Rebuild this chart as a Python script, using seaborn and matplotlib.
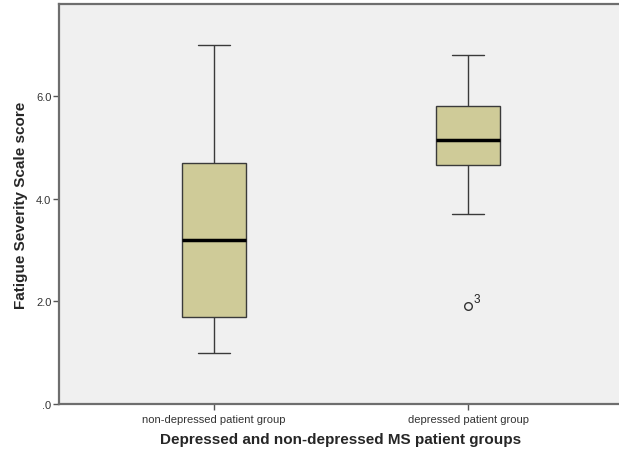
import pandas as pd
import matplotlib
matplotlib.use("Agg")
import matplotlib.pyplot as plt
import seaborn as sns

# groups, in axis order
groups = ["non-depressed patient group", "depressed patient group"]

# patient scores per group (read so that the box summaries match the picture)
non_depressed = [1.0, 1.3, 1.7, 2.5, 3.2, 4.0, 4.7, 6.0, 7.0]
depressed = [1.9, 3.7, 4.65, 5.0, 5.15, 5.5, 5.8, 6.2, 6.8]

# case number of the outlier shown in the depressed group
outlier_case = "3"

yticks = [0, 2, 4, 6]
yticklabels = [".0", "2.0", "4.0", "6.0"]

df = pd.DataFrame({
    "group": [groups[0]] * len(non_depressed) + [groups[1]] * len(depressed),
    "score": non_depressed + depressed,
})

sns.set_style("white")
plt.rcParams["font.family"] = ["Liberation Sans", "DejaVu Sans"]

fig = plt.figure(figsize=(6.19, 4.52), dpi=100)
ax = fig.add_axes([59 / 619, 47 / 452, 564 / 619, 400 / 452])
ax.set_facecolor("#F0F0F0")

sns.boxplot(
    data=df, x="group", y="score", order=groups,
    width=0.25, color="#CFCB98", linecolor="#3a3a3a", linewidth=1,
    whis=1.5, saturation=1,
    medianprops={"color": "black", "linewidth": 2.5},
    flierprops={"marker": "o", "markerfacecolor": "none",
                "markeredgecolor": "#333333", "markersize": 5.5,
                "markeredgewidth": 1},
    ax=ax,
)

# outlier case label
ax.annotate(outlier_case, (1, min(depressed)), xytext=(4, 3),
            textcoords="offset points", fontsize=8.5, color="#222222")

ax.set_xlim(-0.61, 1.61)
ax.set_ylim(0, 7.79)
ax.set_yticks(yticks)
ax.set_yticklabels(yticklabels)

for side in ["top", "bottom", "left", "right"]:
    ax.spines[side].set_color("#6e6e6e")
    ax.spines[side].set_linewidth(1.6)

ax.tick_params(axis="both", direction="out", length=4, width=1,
               bottom=True, left=True,
               color="#555555", labelcolor="#333333", labelsize=8, pad=1.5)
ax.tick_params(axis="x", pad=3)

ax.set_xlabel("Depressed and non-depressed MS patient groups",
              fontsize=11, fontweight="bold", labelpad=6)
ax.set_ylabel("Fatigue Severity Scale score",
              fontsize=11, fontweight="bold", labelpad=6)

fig.savefig("out.png", dpi=100, facecolor="white")
